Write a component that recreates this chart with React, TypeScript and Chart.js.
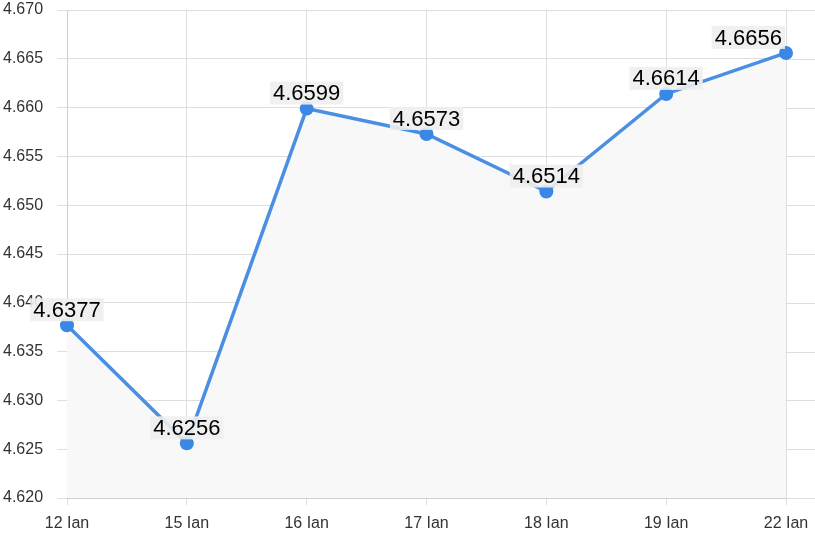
import React, { useEffect, useRef } from "react";
import { Chart, registerables } from "chart.js";

Chart.register(...registerables);

const categories = ["12 Ian", "15 Ian", "16 Ian", "17 Ian", "18 Ian", "19 Ian", "22 Ian"];
const rates = [4.6377, 4.6256, 4.6599, 4.6573, 4.6514, 4.6614, 4.6656];
const yMin = 4.62;
const yMax = 4.67;
const yStep = 0.005;

const FONT = "'Liberation Sans', Arial, sans-serif";

const labelPlugin = {
  id: "valueLabels",
  beforeDatasetsDraw(chart: any) {
    const { ctx, chartArea, scales } = chart;
    ctx.save();
    ctx.strokeStyle = "#dedede";
    ctx.lineWidth = 1;
    scales.y.ticks.forEach((_t: any, i: number) => {
      const y = Math.round(scales.y.getPixelForTick(i)) + 0.5;
      ctx.beginPath();
      ctx.moveTo(chartArea.right, y);
      ctx.lineTo(chart.width, y);
      ctx.stroke();
    });
    ctx.restore();
  },
  afterDatasetsDraw(chart: any) {
    const { ctx, chartArea } = chart;
    const meta = chart.getDatasetMeta(0);
    ctx.save();
    ctx.font = `22px ${FONT}`;
    ctx.textAlign = "center";
    ctx.textBaseline = "middle";
    meta.data.forEach((pt: any, i: number) => {
      const text = rates[i].toFixed(4);
      const w = ctx.measureText(text).width + 6;
      const h = 23;
      let cx = pt.x;
      if (cx + w / 2 > chartArea.right - 1) cx = chartArea.right - 1 - w / 2;
      const bottom = pt.y - 4;
      ctx.fillStyle = "rgba(238,238,238,0.9)";
      ctx.fillRect(cx - w / 2, bottom - h, w, h);
      ctx.fillStyle = "#000";
      ctx.fillText(text, cx, bottom - h / 2 + 1);
    });
    ctx.restore();
  },
};

export default function App() {
  const ref = useRef<HTMLCanvasElement>(null);
  useEffect(() => {
    document.body.style.margin = "0";
    const chart = new Chart(ref.current!, {
      type: "line",
      data: {
        labels: categories,
        datasets: [
          {
            data: rates,
            borderColor: "#4a8fe2",
            borderWidth: 3.5,
            backgroundColor: "#f8f8f8",
            fill: "start",
            tension: 0,
            pointRadius: 7,
            pointBackgroundColor: "#3b87e6",
            pointBorderColor: "#3b87e6",
            pointBorderWidth: 0,
          },
        ],
      },
      options: {
        responsive: false,
        animation: false,
        layout: { padding: { top: 10, right: 29, left: 3, bottom: 0 } },
        plugins: { legend: { display: false }, tooltip: { enabled: false } },
        scales: {
          x: {
            offset: false,
            grid: { color: "#dedede", tickLength: 7 },
            border: { color: "#d0d0d0" },
            ticks: { font: { family: FONT, size: 16 }, color: "#333", padding: 9, maxRotation: 0 },
            afterFit: (s: any) => {
              s.height = 36;
              s.paddingLeft = 0;
              s.paddingRight = 0;
            },
          },
          y: {
            min: yMin,
            max: yMax,
            grid: { color: "#dedede", tickLength: 10 },
            border: { color: "#d0d0d0" },
            ticks: {
              stepSize: yStep,
              font: { family: FONT, size: 16 },
              color: "#333",
              padding: 12,
              crossAlign: "far",
              callback: (v: any) => Number(v).toFixed(3),
            },
            afterFit: (s: any) => {
              s.width = 64;
              s.paddingTop = 0;
              s.paddingBottom = 0;
            },
          },
        },
      },
      plugins: [labelPlugin],
    } as any);
    return () => chart.destroy();
  }, []);
  return (
    <div style={{ width: 815, height: 534 }}>
      <canvas ref={ref} width={815} height={534} />
    </div>
  );
}
